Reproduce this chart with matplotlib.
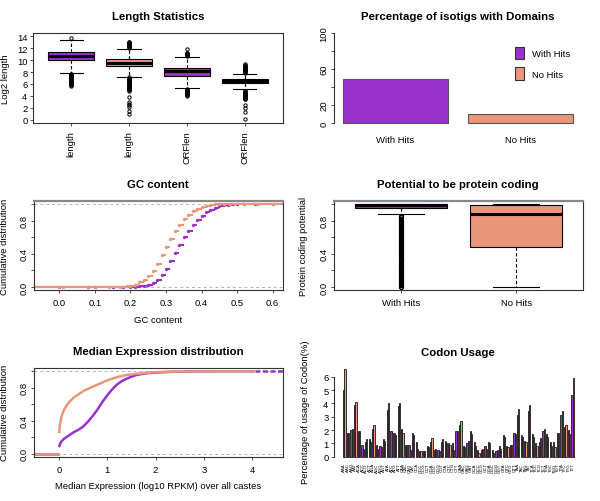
import matplotlib
matplotlib.use("Agg")
import matplotlib.pyplot as plt
from matplotlib.patches import Patch

plt.rcParams['font.family'] = ['Liberation Sans', 'DejaVu Sans']
plt.rcParams['font.size'] = 6.8

PURPLE = '#9932CC'
SALMON = '#E9967A'

# ---------------- data ----------------
# Length statistics (box summaries)
len_labels = ['length', 'length', 'ORFlen', 'ORFlen']
len_q1 = [10.0, 9.0, 7.35, 6.1]
len_med = [10.7, 9.55, 8.1, 6.45]
len_q3 = [11.35, 10.2, 8.65, 6.75]
len_lo = [7.9, 7.25, 5.35, 5.15]
len_hi = [13.45, 11.95, 10.6, 7.75]
len_out1 = [5.7, 5.8, 5.9, 6.0, 6.1, 6.2, 6.3, 6.4, 6.5, 6.6, 6.7, 6.8, 6.9,
            7.0, 7.1, 7.2, 7.3, 7.4, 7.5, 7.6, 7.7, 13.65]
len_out2 = [1.0, 1.5, 2.05, 2.5, 2.7, 2.9, 3.8, 4.9, 5.0, 5.1, 5.2, 5.3, 5.4,
            5.5, 5.6, 5.7, 5.8, 5.9, 6.0, 6.1, 6.2, 6.3, 6.4, 6.5, 6.6, 6.7,
            6.8, 6.9, 7.0, 7.1, 12.1, 12.2, 12.3, 12.4, 12.5, 12.6, 12.7,
            12.8, 12.9, 13.0, 13.1]
len_out3 = [4.05, 4.15, 4.25, 4.35, 4.45, 4.55, 4.65, 4.75, 4.85, 4.95, 5.05,
            5.15, 10.75, 10.85, 10.95, 11.05, 11.15, 11.25, 11.9]
len_out4 = [0.1, 1.3, 1.9, 2.4, 3.4, 3.5, 3.6, 3.7, 3.8, 3.9, 4.0, 4.1, 4.2,
            4.3, 4.4, 4.5, 4.6, 4.7, 4.8, 4.9, 7.9, 8.0, 8.1, 8.2, 8.3, 8.4,
            8.5, 8.6, 8.7, 8.8, 8.9, 9.0, 9.1, 9.2, 9.3]
len_outliers = [len_out1, len_out2, len_out3, len_out4]

# Percentage of isotigs with domains
dom_labels = ['With Hits', 'No Hits']
dom_pct = [48.9, 10.0]

# GC content cumulative distribution (step points)
gc_x_with = [0.0, 0.08, 0.10, 0.15, 0.18, 0.20, 0.2125, 0.225, 0.2375, 0.25,
             0.2625, 0.275, 0.2875, 0.30, 0.3125, 0.325, 0.3375, 0.35, 0.3625,
             0.375, 0.3875, 0.40, 0.4125, 0.425, 0.4375, 0.45, 0.4625, 0.475,
             0.4875, 0.50, 0.52, 0.55, 0.60]
gc_y_with = [0.0, 0.0, 0.0, 0.001, 0.001, 0.002, 0.003, 0.007, 0.013, 0.025,
             0.045, 0.08, 0.14, 0.22, 0.31, 0.41, 0.51, 0.60, 0.68,
             0.75, 0.81, 0.86, 0.90, 0.93, 0.955, 0.972, 0.985, 0.993,
             0.998, 1.0, 1.0, 1.0, 1.0]
gc_x_no = [0.0, 0.01, 0.08, 0.10, 0.14, 0.17, 0.19, 0.20, 0.2125, 0.225,
           0.2375, 0.25, 0.2625, 0.275, 0.2875, 0.30, 0.3125, 0.325, 0.3375,
           0.35, 0.3625, 0.375, 0.3875, 0.40, 0.4125, 0.425, 0.4375, 0.45,
           0.4625, 0.48, 0.52, 0.56, 0.60]
gc_y_no = [0.0, 0.0, 0.0, 0.001, 0.002, 0.004, 0.006, 0.010, 0.025, 0.055,
           0.09, 0.13, 0.19, 0.28, 0.38, 0.48, 0.58, 0.67, 0.75,
           0.82, 0.87, 0.91, 0.94, 0.965, 0.98, 0.99, 0.995, 0.998,
           1.0, 1.0, 1.0, 1.0, 1.0]

# Potential to be protein coding (box summaries)
pc_labels = ['With Hits', 'No Hits']
pc_q1 = [0.955, 0.48]
pc_med = [0.985, 0.877]
pc_q3 = [0.995, 0.99]
pc_lo = [0.877, 0.0]
pc_hi = [1.0, 1.0]
pc_out_with = [0.0, 0.02, 0.04, 0.06, 0.08, 0.10, 0.12, 0.14, 0.16, 0.18,
               0.20, 0.22, 0.24, 0.26, 0.28, 0.30, 0.32, 0.34, 0.36, 0.38,
               0.40, 0.42, 0.44, 0.46, 0.48, 0.50, 0.52, 0.54, 0.56, 0.58,
               0.60, 0.62, 0.64, 0.66, 0.68, 0.70, 0.72, 0.74, 0.76, 0.78,
               0.80, 0.82, 0.84, 0.86]
pc_outliers = [pc_out_with, []]

# Median expression cumulative distribution
ex_x_with = [0.0, 0.02, 0.05, 0.1, 0.2, 0.3, 0.4, 0.5, 0.6, 0.7, 0.8, 0.9,
             1.0, 1.1, 1.2, 1.3, 1.4, 1.5, 1.6, 1.8, 2.0, 2.3, 2.7, 3.2, 4.05]
ex_y_with = [0.08, 0.12, 0.15, 0.18, 0.22, 0.26, 0.29, 0.33, 0.39, 0.46, 0.54,
             0.63, 0.71, 0.78, 0.84, 0.88, 0.91, 0.935, 0.955, 0.975, 0.985,
             0.993, 0.998, 1.0, 1.0]
ex_x_no = [0.0, 0.02, 0.05, 0.1, 0.15, 0.2, 0.3, 0.4, 0.5, 0.65, 0.8, 1.0,
           1.2, 1.4, 1.6, 1.8, 2.0, 2.3, 2.6, 3.0, 3.5, 4.05]
ex_y_no = [0.25, 0.36, 0.45, 0.53, 0.58, 0.62, 0.68, 0.72, 0.76, 0.80, 0.84,
           0.89, 0.93, 0.955, 0.97, 0.98, 0.99, 0.995, 0.998, 1.0, 1.0, 1.0]

# Codon usage (%)
codons = ("AAA AAC AAG AAT ACA ACC ACG ACT AGA AGC AGG AGT ATA ATC ATG ATT "
          "CAA CAC CAG CAT CCA CCC CCG CCT CGA CGC CGG CGT CTA CTC CTG CTT "
          "GAA GAC GAG GAT GCA GCC GCG GCT GGA GGC GGG GGT GTA GTC GTG GTT "
          "TAA TAC TAG TAT TCA TCC TCG TCT TGA TGC TGG TGT TTA TTC TTG TTT").split()
codon_with = [5.0, 1.8, 2.0, 3.9, 1.9, 0.9, 1.1, 1.3, 2.1, 0.9,
              0.8, 1.3, 3.5, 1.9, 1.8, 3.8, 2.1, 0.9, 0.9, 1.8,
              1.1, 0.4, 0.45, 0.8, 1.1, 0.5, 0.5, 1.1, 1.2, 1.0,
              1.0, 1.9, 2.4, 0.8, 1.0, 1.9, 1.1, 0.5, 0.5, 0.8,
              1.1, 0.5, 0.4, 0.8, 1.6, 0.8, 0.9, 1.8, 3.1, 1.6,
              1.2, 3.4, 1.7, 1.0, 1.1, 1.9, 1.7, 1.1, 1.1, 1.8,
              3.1, 2.2, 2.0, 4.6]
codon_no = [6.6, 1.8, 2.1, 4.1, 1.9, 0.6, 1.3, 1.1, 2.4, 0.6,
            0.7, 1.2, 4.0, 1.8, 1.6, 4.0, 1.8, 0.9, 0.5, 1.6,
            0.6, 0.45, 0.4, 0.7, 1.4, 0.55, 0.4, 1.3, 1.0, 0.9,
            0.5, 1.9, 2.7, 0.7, 1.2, 1.7, 0.8, 0.3, 0.6, 0.6,
            1.0, 0.3, 0.5, 0.6, 1.5, 0.7, 0.9, 1.7, 3.6, 1.5,
            1.1, 3.9, 1.5, 0.8, 1.4, 2.1, 1.5, 0.8, 0.7, 1.8,
            3.4, 2.4, 1.7, 5.9]

# ---------------- layout ----------------
W, H = 600, 502
TITLE_SIZE = 8.2
fig = plt.figure(figsize=(6, 5.02), dpi=100)


def add_ax(left, top, right, bottom):
    return fig.add_axes([left / W, 1 - bottom / H, (right - left) / W, (bottom - top) / H])


def ftext(x, y, s, **kw):
    fig.text(x / W, 1 - y / H, s, ha='center', va='center', **kw)


def style_ticks(ax):
    ax.tick_params(length=2.5, width=0.6, pad=1.5, labelsize=6.8, color='#333333')
    for sp in ax.spines.values():
        sp.set_linewidth(0.8)
        sp.set_color('#333333')


def rot_ylabels(ax):
    for t in ax.get_yticklabels():
        t.set_rotation(90)
        t.set_va('center')


def box_stats(q1, med, q3, lo, hi, outs):
    return [dict(q1=a, med=b, q3=c, whislo=d, whishi=e, fliers=f)
            for a, b, c, d, e, f in zip(q1, med, q3, lo, hi, outs)]


def draw_boxes(ax, stats, colors, flier_mew=0.5):
    bp = ax.bxp(stats, positions=range(1, len(stats) + 1), widths=0.8,
                patch_artist=True, showfliers=True,
                boxprops=dict(edgecolor='black', linewidth=0.8),
                medianprops=dict(color='black', linewidth=2.2),
                whiskerprops=dict(color='black', linewidth=0.8, linestyle=(0, (3, 2))),
                capprops=dict(color='black', linewidth=0.8),
                flierprops=dict(marker='o', markersize=2.4, markerfacecolor='none',
                                markeredgecolor='black', markeredgewidth=flier_mew))
    for patch, c in zip(bp['boxes'], colors):
        patch.set_facecolor(c)
    for cap in bp['caps']:
        x0, x1 = cap.get_xdata()
        xm = (x0 + x1) / 2
        cap.set_xdata([xm - 0.5 * (x1 - x0), xm + 0.5 * (x1 - x0)])
    return bp


# ---- Panel 1: Length Statistics ----
ax1 = add_ax(33, 34, 283, 124)
draw_boxes(ax1, box_stats(len_q1, len_med, len_q3, len_lo, len_hi, len_outliers),
           [PURPLE, SALMON, PURPLE, SALMON], flier_mew=0.7)
ax1.set_xlim(0.34, 4.66)
ax1.set_ylim(-0.56, 14.56)
ax1.set_yticks(range(0, 15, 2))
ax1.set_xticks([1, 2, 3, 4])
ax1.set_xticklabels(len_labels, rotation=90)
style_ticks(ax1)
ax1.tick_params(axis='x', pad=2.5)
ftext(158, 17, 'Length Statistics', fontsize=TITLE_SIZE, fontweight='bold')
ftext(6, 79, 'Log2 length', rotation=90)

# ---- Panel 2: Percentage of isotigs with Domains ----
ax2 = add_ax(334, 30.4, 582, 127.6)
ax2.bar([0.7, 1.9], dom_pct, width=1.0, color=[PURPLE, SALMON],
        edgecolor='#555555', linewidth=0.8)
ax2.set_xlim(0.112, 2.488)
ax2.set_ylim(-4, 104)
ax2.set_yticks([0, 20, 40, 60, 80, 100])
ax2.set_yticklabels(['0', '20', '', '60', '', '100'])
ax2.set_xticks([0.7, 1.9])
ax2.set_xticklabels(dom_labels)
for s in ['top', 'right', 'bottom']:
    ax2.spines[s].set_visible(False)
style_ticks(ax2)
ax2.spines['left'].set_bounds(0, 100)
ax2.tick_params(axis='x', length=0, pad=6)
rot_ylabels(ax2)
handles = [Patch(facecolor=PURPLE, edgecolor='#333333', linewidth=0.8),
           Patch(facecolor=SALMON, edgecolor='#333333', linewidth=0.8)]
ax2.legend(handles, dom_labels, loc='upper left', bbox_to_anchor=(0.71, 0.865),
           frameon=False, handlelength=0.95, handleheight=1.6, handletextpad=0.9,
           labelspacing=0.85, borderpad=0, fontsize=6.8)
ftext(458, 17, 'Percentage of isotigs with Domains', fontsize=TITLE_SIZE, fontweight='bold')

# ---- Panel 3: GC content ----
ax3 = add_ax(34, 201.7, 283, 291.3)
GC_L, GC_R = -0.071, 0.629
ax3.axhline(0, color='#b3b3b3', lw=0.7, ls=(0, (3, 3)))
ax3.axhline(1, color='#b3b3b3', lw=0.7, ls=(0, (3, 3)))
for xs, ys, col in [(gc_x_with, gc_y_with, PURPLE), (gc_x_no, gc_y_no, SALMON)]:
    ax3.hlines([0], [GC_L], [xs[0]], color=col, lw=1.5)
    ax3.hlines(ys, xs, xs[1:] + [GC_R], color=col, lw=1.5)
    ax3.plot(xs, ys, 'o', ms=2.4, color=col, mew=0)
ax3.set_xlim(GC_L, GC_R)
ax3.set_ylim(-0.04, 1.04)
ax3.set_xticks([0.0, 0.1, 0.2, 0.3, 0.4, 0.5, 0.6])
ax3.set_yticks([0.0, 0.2, 0.4, 0.6, 0.8, 1.0])
ax3.set_yticklabels(['0.0', '', '0.4', '', '0.8', ''])
style_ticks(ax3)
ax3.spines['top'].set_linewidth(1.6)
ax3.spines['top'].set_color('#888888')
ax3.tick_params(axis='x', pad=3)
rot_ylabels(ax3)
ftext(158, 185, 'GC content', fontsize=TITLE_SIZE, fontweight='bold')
ftext(158, 321, 'GC content')
ftext(5, 246.5, 'Cumulative distribution', rotation=90)

# ---- Panel 4: Potential to be protein coding ----
ax4 = add_ax(334, 201.7, 583, 291.3)
bp4 = draw_boxes(ax4, box_stats(pc_q1, pc_med, pc_q3, pc_lo, pc_hi, pc_outliers),
                 [PURPLE, SALMON], flier_mew=1.0)
for fl in bp4['fliers']:
    fl.set_markersize(2.8)
ax4.set_xlim(0.42, 2.58)
ax4.set_ylim(-0.04, 1.04)
ax4.set_xticks([1, 2])
ax4.set_xticklabels(pc_labels)
ax4.set_yticks([0.0, 0.2, 0.4, 0.6, 0.8, 1.0])
ax4.set_yticklabels(['0.0', '', '0.4', '', '0.8', ''])
style_ticks(ax4)
ax4.spines['top'].set_linewidth(1.6)
ax4.spines['top'].set_color('#888888')
ax4.tick_params(axis='x', pad=3)
rot_ylabels(ax4)
ftext(458, 185, 'Potential to be protein coding', fontsize=TITLE_SIZE, fontweight='bold')
ftext(304, 246.5, 'Protein coding potential', rotation=90)

# ---- Panel 5: Median Expression distribution ----
ax5 = add_ax(34, 369, 283, 458)
EX_L, EX_R = -0.52, 4.64
ax5.axhline(0, color='#b3b3b3', lw=0.7, ls=(0, (3, 3)))
ax5.axhline(1, color='#b3b3b3', lw=0.7, ls=(0, (3, 3)))
for xs, ys, col in [(ex_x_with, ex_y_with, PURPLE), (ex_x_no, ex_y_no, SALMON)]:
    ax5.hlines([0], [EX_L], [0], color=col, lw=1.8)
    ax5.plot(xs, ys, color=col, lw=1.8, solid_capstyle='butt')
ax5.hlines([1], [ex_x_with[-1]], [EX_R], color=PURPLE, lw=1.8, ls=(0, (2, 1)))
ax5.set_xlim(EX_L, EX_R)
ax5.set_ylim(-0.04, 1.04)
ax5.set_xticks([0, 1, 2, 3, 4])
ax5.set_yticks([0.0, 0.2, 0.4, 0.6, 0.8, 1.0])
ax5.set_yticklabels(['0.0', '', '0.4', '', '0.8', ''])
style_ticks(ax5)
ax5.tick_params(axis='x', pad=3)
rot_ylabels(ax5)
ftext(158, 352, 'Median Expression distribution', fontsize=TITLE_SIZE, fontweight='bold')
ftext(158, 487, 'Median Expression (log10 RPKM) over all castes')
ftext(5, 413, 'Cumulative distribution', rotation=90)

# ---- Panel 6: Codon Usage ----
ax6 = add_ax(334, 366.2, 583, 461.2)
pos_with = [1 + 3 * i for i in range(len(codons))]
pos_no = [2 + 3 * i for i in range(len(codons))]
ax6.bar(pos_with, codon_with, width=1.0, align='edge', color=PURPLE,
        edgecolor='#1a1a1a', linewidth=0.6)
ax6.bar(pos_no, codon_no, width=1.0, align='edge', color=SALMON,
        edgecolor='#1a1a1a', linewidth=0.6)
ax6.set_xlim(-6.64, 199.64)
ax6.set_ylim(-0.264, 6.864)
ax6.set_yticks(range(0, 7))
ax6.set_xticks([p + 1 for p in pos_with])
ax6.set_xticklabels(codons, rotation=90, fontsize=3.2)
for s in ['top', 'right', 'bottom']:
    ax6.spines[s].set_visible(False)
style_ticks(ax6)
ax6.spines['left'].set_bounds(0, 6)
ax6.tick_params(axis='x', length=0, pad=1.5, labelsize=3.2)
ftext(458, 353, 'Codon Usage', fontsize=TITLE_SIZE, fontweight='bold')
ftext(305, 412, 'Percentage of usage of Codon(%)', rotation=90)

fig.savefig('out.png', dpi=100)
